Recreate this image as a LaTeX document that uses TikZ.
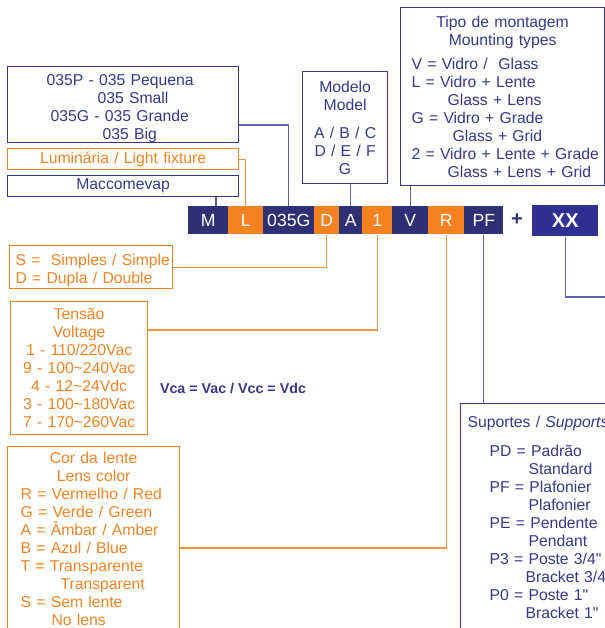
\documentclass[tikz,border=0pt]{standalone}
\usepackage{fontspec}
\setmainfont{Liberation Sans}
\newfontfamily\simplu{Liberation Sans}

\definecolor{bleu}{HTML}{2D3075}
\definecolor{bleuxx}{HTML}{2E3192}
\definecolor{bleutext}{HTML}{34378C}
\definecolor{bleulinie}{HTML}{5F62AA}
\definecolor{portocaliu}{HTML}{F58220}
\newcommand\ind[1]{\hspace*{\dimexpr#1pt*3/4\relax}}
\newcommand\ghilim{{\simplu\char34}}

\begin{document}
\begin{tikzpicture}[x=0.75pt,y=-0.75pt,
  cutie/.style n args={2}{draw=bleutext,text=bleutext,line width=0.9pt,
    anchor=north west,inner sep=0pt,align=left,
    minimum width=#1*0.75pt,minimum height=#2*0.75pt,text width=#1*0.75pt,
    font=\fontsize{11.8}{13.5}\selectfont},
  cutieport/.style n args={2}{cutie={#1}{#2},draw=portocaliu,text=portocaliu},
  celula/.style={fill=bleu,text=white,anchor=north west,inner sep=0pt,
    minimum height=21pt,minimum width=#1*0.75pt,
    font=\fontsize{13.2}{14}\selectfont},
  legbleu/.style={draw=bleulinie,line width=0.8pt},
  legport/.style={draw=portocaliu!85,line width=0.8pt}]
  \useasboundingbox (0,0) rectangle (605,628);
  \clip (0,0) rectangle (605,628);

  % casete sus
  \node[cutie={231}{76}] (sizes) at (7,66)
    {\rule{0pt}{14pt}\ind{39}035P - 035 Pequena\\ \ind{90}035 Small\\
     \ind{43}035G - 035 Grande\\ \ind{95}035 Big};
  \node[cutieport={231}{21},align=center] (lum) at (7,148) {Luminária / Light fixture};
  \node[cutie={231}{21},align=center] (mac) at (7,175) {Maccomevap};
  \node[cutie={85}{112},align=center] (model) at (302,71)
    {Modelo\\ Model\\[7.5pt] A / B / C\\ D / E / F\\ G};
  \node[cutie={204}{178}] (mount) at (400,7)
    {\makebox[\hsize]{Tipo de montagem}\\ \makebox[\hsize]{Mounting types}\\[4.5pt]
     \ind{11}V = Vidro /\ \ Glass\\ \ind{11}L = Vidro + Lente\\ \ind{47}Glass + Lens\\
     \ind{11}G = Vidro + Grade\\ \ind{52}Glass + Grid\\
     \ind{11}2 = Vidro + Lente + Grade\\ \ind{47}Glass + Lens + Grid};

  % bara de cod
  \node[celula=40] (cM) at (188,206) {M};
  \node[celula=35,fill=portocaliu] (cL) at (228,206) {L};
  \node[celula=51] (c035G) at (263,206) {035G};
  \node[celula=25,fill=portocaliu] (cD) at (314,206) {D};
  \node[celula=23] (cA) at (339,206) {A};
  \node[celula=30,fill=portocaliu] (c1) at (362,206) {1};
  \node[celula=36] (cV) at (392,206) {V};
  \node[celula=36,fill=portocaliu] (cR) at (428,206) {R};
  \node[celula=39] (cPF) at (464,206) {PF};
  \node[text=bleu,font=\fontsize{15}{15}\bfseries\selectfont] (plus) at (517,220) {+};
  \node[celula=66,fill=bleuxx,minimum height=23.25pt,
    font=\fontsize{15}{15}\bfseries\selectfont] (xx) at (532,205) {XX};
  \coordinate (xxcapat) at (612,297);

  % casete jos
  \node[cutieport={163}{43}] (simple) at (9,245)
    {\rule{0pt}{13pt}\ind{6}S =\ \ Simples / Simple\\ \ind{6}D = Dupla / Double};
  \node[cutieport={137}{133},align=center] (volt) at (10,301)
    {Tensão\\ Voltage\\ 1 - 110/220Vac\\ 9 - 100\char`~240Vac\\ 4 - 12\char`~24Vdc\\
     3 - 100\char`~180Vac\\ 7 - 170\char`~260Vac};
  \node[text=bleutext,font=\fontsize{10.7}{12}\bfseries\selectfont] (vca) at (233,388)
    {Vca = Vac / Vcc = Vdc};
  \node[cutieport={172}{185}] (lens) at (7,446)
    {\makebox[\hsize]{Cor da lente}\\ \makebox[\hsize]{Lens color}\\
     \ind{13}R = Vermelho / Red\\ \ind{13}G = Verde / Green\\ \ind{13}A = Âmbar / Amber\\
     \ind{13}B = Azul / Blue\\ \ind{13}T = Transparente\\ \ind{53}Transparent\\
     \ind{13}S = Sem lente\\ \ind{44}No lens};
  \node[cutie={170}{228}] (supp) at (460,403)
    {\ind{7}Suportes / \textit{Supports}\\[8pt]
     \ind{29}PD = Padrão\\ \ind{68}Standard\\ \ind{29}PF = Plafonier\\ \ind{68}Plafonier\\
     \ind{29}PE = Pendente\\ \ind{68}Pendant\\ \ind{29}P3 = Poste 3/4\ghilim\\ \ind{65}Bracket 3/4\ghilim\\
     \ind{29}P0 = Poste 1\ghilim\\ \ind{65}Bracket 1\ghilim};

  % legături
  \draw[legbleu] (mac.south -| 216,0) -- (cM.north -| 216,0);
  \draw[legport] (lum.east) -| (cL.north);
  \draw[legbleu] (sizes.east |- 0,125) -| (c035G.north);
  \draw[legbleu] (model.south -| cA.north) -- (cA.north);
  \draw[legbleu] (mount.south -| cV.north) -- (cV.north);
  \draw[legport] (cD.south) |- (simple.east);
  \draw[legport] (c1.south) |- (volt.east |- 0,330);
  \draw[legport] (cR.south) |- (lens.east |- 0,548);
  \draw[legbleu] (cPF.south) -- (supp.north -| cPF.south);
  \draw[legbleu] (xx.south) |- (xxcapat);
\end{tikzpicture}
\end{document}
